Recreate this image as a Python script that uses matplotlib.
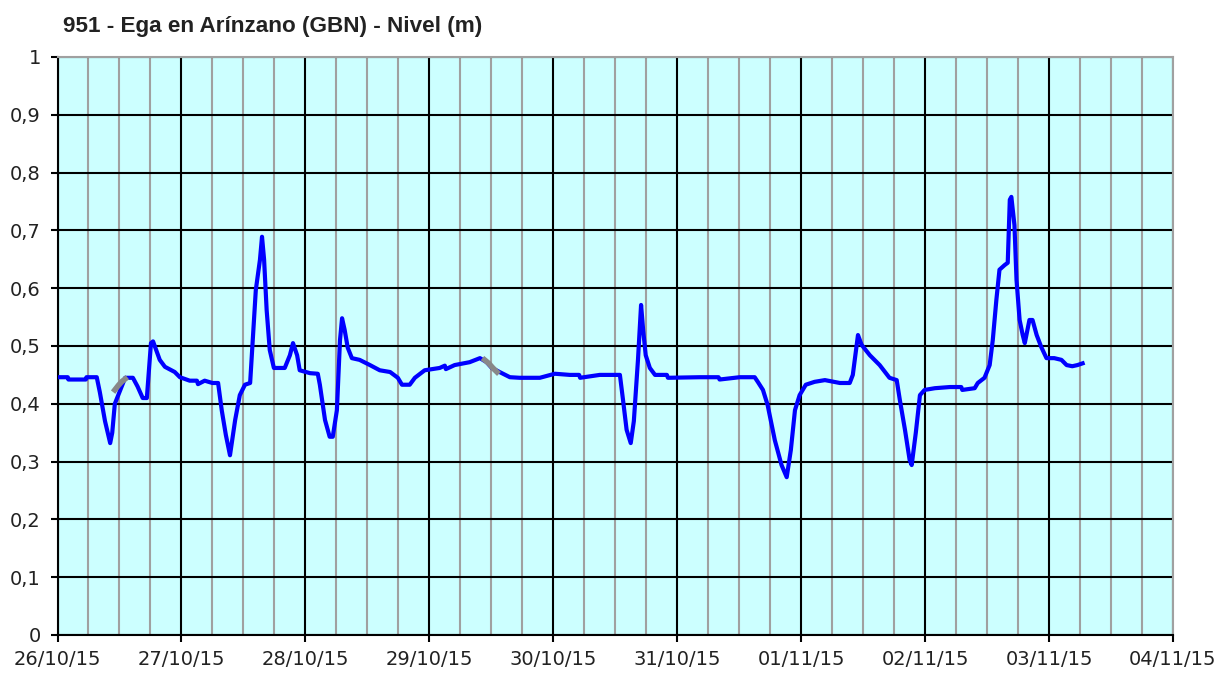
import matplotlib
matplotlib.use("Agg")
import matplotlib.pyplot as plt
from matplotlib.ticker import MultipleLocator, FuncFormatter
import numpy as np

# horas desde 26/10/15 00:00 y nivel (m)
horas = [0, 2.0, 2.1, 5.5, 5.6, 7.6, 8.2, 9.2, 10.2, 10.6, 11.1,
         13.1, 14.6, 15.5, 16.5, 17.3, 18.1, 18.5, 19.8, 20.8, 22.7, 23.7,
         25.6, 27.0, 27.2, 28.5, 30.0, 31.1, 31.8, 32.6, 33.4, 34.4, 35.3,
         36.3, 37.3, 37.8, 38.4, 39.2, 39.6, 40.0, 40.5, 41.1, 41.9, 44.0,
         45.0, 45.6, 46.4, 46.9, 48.9, 50.4, 50.8, 51.8, 52.7, 53.3, 54.1,
         54.7, 55.1, 55.6, 56.2, 57.0, 58.5, 60.5, 62.4, 64.4, 65.9, 66.7,
         68.2, 69.2, 71.1, 74.0, 75.0, 75.2, 76.9, 79.8, 81.8, 83.1, 84.1,
         85.6, 87.6, 89.5, 93.4, 96.3, 99.2, 101.0, 101.2, 105.0, 108.9,
         109.5, 110.2, 111.0, 111.6, 112.4, 113.0, 113.4, 113.9, 114.7,
         115.7, 118.0, 118.2, 124.4, 128.0, 128.2, 132.1, 135.0, 135.6,
         136.6, 137.5, 138.9, 140.2, 141.2, 142.0, 142.8, 143.7, 144.9,
         146.6, 148.6, 151.5, 153.4, 154.0, 155.0, 155.7, 157.3, 159.2,
         161.1, 162.5, 163.1, 164.1, 165.0, 165.4, 166.2, 167.0, 167.9,
         169.9, 172.8, 175.0, 175.2, 177.6, 178.2, 179.5, 180.5, 181.1,
         181.8, 182.4, 183.4, 184.0, 184.4, 184.7, 185.3, 185.7, 186.3,
         186.9, 187.3, 188.2, 188.8, 189.6, 190.5, 191.5, 193.0, 194.4,
         195.4, 196.5, 197.5, 198.5]
nivel = [0.446, 0.446, 0.442, 0.442, 0.446, 0.446, 0.42, 0.37, 0.332, 0.35, 0.40,
         0.445, 0.445, 0.43, 0.41, 0.41, 0.505, 0.508, 0.476, 0.464, 0.455, 0.446,
         0.44, 0.44, 0.434, 0.44, 0.436, 0.436, 0.389, 0.346, 0.311, 0.372, 0.415,
         0.433, 0.436, 0.51, 0.597, 0.649, 0.689, 0.65, 0.562, 0.493, 0.462, 0.462,
         0.484, 0.505, 0.484, 0.458, 0.453, 0.452, 0.433, 0.372, 0.343, 0.343, 0.389,
         0.51, 0.548, 0.528, 0.497, 0.479, 0.476, 0.467, 0.458, 0.455, 0.445, 0.433,
         0.433, 0.445, 0.458, 0.462, 0.466, 0.460, 0.467, 0.472, 0.479, 0.472, 0.462,
         0.455, 0.446, 0.445, 0.445, 0.452, 0.45, 0.45, 0.445, 0.45, 0.45,
         0.407, 0.355, 0.332, 0.37, 0.476, 0.571, 0.528, 0.484, 0.462,
         0.45, 0.45, 0.445, 0.446, 0.446, 0.442, 0.446, 0.446, 0.438,
         0.424, 0.398, 0.337, 0.294, 0.273, 0.32, 0.389, 0.415, 0.433,
         0.438, 0.441, 0.436, 0.436, 0.45, 0.519, 0.502, 0.484, 0.467,
         0.445, 0.441, 0.407, 0.355, 0.303, 0.294, 0.35, 0.415, 0.424,
         0.427, 0.429, 0.429, 0.424, 0.427, 0.436, 0.445, 0.467, 0.51,
         0.58, 0.632, 0.64, 0.644, 0.753, 0.758, 0.709, 0.614, 0.545,
         0.519, 0.505, 0.545, 0.545, 0.519, 0.498, 0.479, 0.479, 0.476,
         0.467, 0.465, 0.467, 0.47]

# tramos marcados en gris
gris1_h = [11.1, 11.8, 12.4, 13.1]
gris1_v = [0.424, 0.432, 0.438, 0.443]
gris2_h = [82.7, 83.5, 84.3, 85.1]
gris2_v = [0.476, 0.470, 0.462, 0.455]

dias = ["26/10/15", "27/10/15", "28/10/15", "29/10/15", "30/10/15",
        "31/10/15", "01/11/15", "02/11/15", "03/11/15", "04/11/15"]

fig = plt.figure(figsize=(12.32, 6.75), dpi=100)
ax = fig.add_axes([57.5 / 1232, 1 - 635 / 675, (1173 - 57.5) / 1232, (635 - 57) / 675])
ax.set_facecolor("#CCFFFF")

ax.plot(horas, nivel, color="#0000FF", lw=3, zorder=3)
ax.plot(gris1_h, gris1_v, color="#888888", lw=4, zorder=4)
ax.plot(gris2_h, gris2_v, color="#888888", lw=4, zorder=4)

ax.set_xlim(0, 24 * (len(dias) - 1))
ax.set_ylim(0, 1)
ax.set_xticks(np.arange(len(dias)) * 24)
ax.set_xticklabels(dias)
ax.xaxis.set_minor_locator(MultipleLocator(6))
ax.yaxis.set_major_locator(MultipleLocator(0.1))
ax.yaxis.set_major_formatter(FuncFormatter(
    lambda v, p: "0" if v == 0 else ("1" if abs(v - 1) < 1e-9 else f"{v:.1f}".replace(".", ","))))

ax.grid(which="minor", axis="x", color="#A0A0A0", lw=1.5, zorder=1)
ax.grid(which="major", axis="x", color="black", lw=1.5, zorder=2)
ax.grid(which="major", axis="y", color="black", lw=1.5, zorder=2)
ax.set_axisbelow(True)

for s in ["top", "right"]:
    ax.spines[s].set_color("#A0A0A0")
    ax.spines[s].set_linewidth(1.5)
for s in ["left", "bottom"]:
    ax.spines[s].set_color("black")
    ax.spines[s].set_linewidth(1.5)

ax.tick_params(axis="both", which="major", direction="out", length=5, width=1.5,
               labelsize=14, colors="black")
ax.tick_params(axis="x", which="minor", length=0)
ax.tick_params(axis="x", pad=6)
ax.tick_params(axis="y", pad=7)
for lab in ax.get_xticklabels() + ax.get_yticklabels():
    lab.set_color("#222222")

fig.text(63 / 1232, 1 - 32 / 675, "951 - Ega en Arínzano (GBN) - Nivel (m)",
         fontsize=16.2, fontweight="bold", family="Liberation Sans", color="#222222",
         ha="left", va="baseline")

fig.savefig("out.png", dpi=100, facecolor="white")
